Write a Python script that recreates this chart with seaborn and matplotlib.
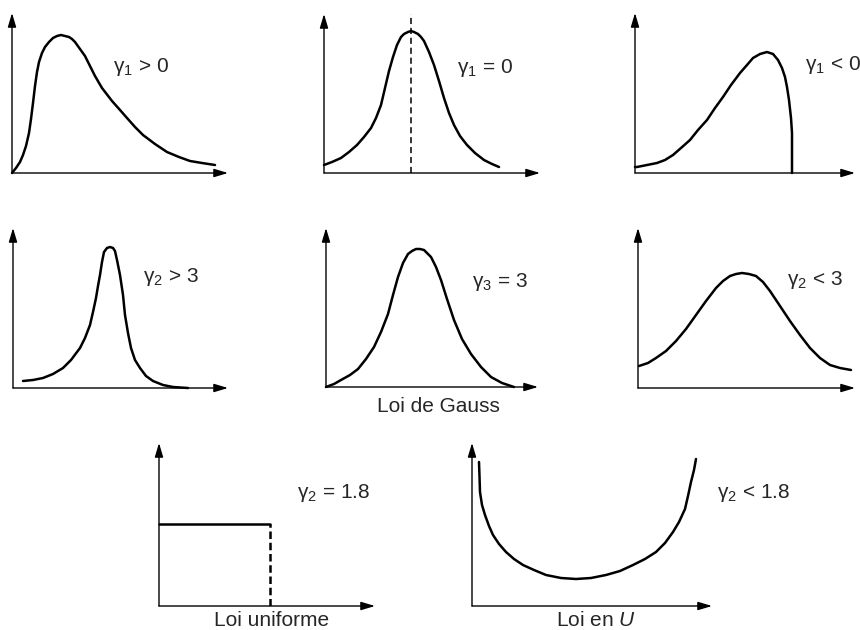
import matplotlib
matplotlib.use("Agg")
import matplotlib.pyplot as plt
import seaborn as sns
import pandas as pd

# ---- data (x offset from y-axis, height above x-axis, in px) ----
p1_x = [0, 4, 8, 11, 14, 17, 19, 21, 23, 25, 27, 30, 33, 37, 41, 45, 49, 53, 57, 60, 63, 68, 73,
        78, 83, 90, 100, 108, 115, 123, 131, 143, 155, 167, 178, 190, 203]
p1_y = [0, 5, 11, 18, 27, 40, 54, 70, 87, 101, 111, 120, 126, 131, 135, 137, 138, 137, 136, 134,
        131, 124, 117, 107, 97, 85, 72, 63, 55, 46, 38, 29, 21, 16, 12, 10, 8]

p2_x = [0, 8, 17, 25, 33, 40, 47, 52, 57, 61, 65, 69, 73, 77, 80, 84, 87, 90, 94, 97, 100, 105,
        110, 115, 120, 125, 130, 136, 143, 151, 160, 168, 175]
p2_y = [8, 11, 15, 21, 28, 36, 45, 55, 68, 85, 102, 116, 128, 136, 139, 141, 142, 141, 139, 136,
        132, 121, 108, 92, 75, 60, 48, 37, 28, 20, 13, 9, 6]
p2_mean = 87

p3_x = [0, 2, 12, 22, 30, 38, 46, 55, 63, 72, 80, 88, 96, 105, 112, 118, 125, 132, 138, 143,
        147, 150, 152, 154, 156, 157, 157]
p3_y = [6, 6, 8, 10, 13, 18, 25, 33, 43, 53, 65, 76, 88, 100, 108, 115, 119, 121, 119, 113,
        105, 96, 86, 73, 55, 40, 0]

p4_x = [10, 20, 30, 40, 50, 58, 67, 72, 77, 80, 83, 85, 87, 89, 91, 94, 97, 100, 102, 104, 107,
        110, 112, 115, 118, 122, 127, 133, 140, 150, 160, 175]
p4_y = [7, 8, 10, 14, 20, 28, 40, 50, 63, 76, 90, 102, 113, 126, 136, 140, 141, 140, 137, 128,
        113, 93, 73, 55, 40, 28, 20, 12, 7, 3, 1, 0]

p5_x = [0, 8, 15, 24, 32, 40, 48, 55, 62, 67, 72, 77, 82, 86, 90, 94, 98, 102, 105, 110, 115,
        121, 128, 136, 145, 155, 165, 176, 188]
p5_y = [0, 3, 7, 12, 18, 28, 40, 55, 73, 92, 110, 124, 133, 136, 138, 138, 137, 133, 130, 120,
        107, 88, 67, 48, 33, 20, 10, 4, 0]

p6_x = [1, 10, 18, 28, 38, 48, 58, 68, 78, 85, 92, 98, 104, 111, 118, 125, 132, 142, 152, 162,
        172, 182, 192, 202, 213]
p6_y = [22, 25, 30, 37, 47, 59, 73, 87, 100, 107, 112, 114, 115, 114, 112, 106, 97, 82, 67, 53,
        40, 30, 23, 20, 18]

p7_x = [0, 111]
p7_y = [82, 82]

p8_x = [7, 7.5, 8, 10, 13, 17, 21, 27, 34, 42, 51, 62, 74, 89, 104, 119, 134, 148, 161, 173, 184,
        193, 201, 207, 213, 216, 219, 222, 224]
p8_y = [144, 130, 114, 101, 91, 80, 71, 62, 54, 47, 41, 36, 31, 28, 27, 28, 31, 35, 41, 47, 54,
        63, 74, 84, 97, 110, 124, 136, 147]

labels = [r"$\mathregular{\gamma_1}$ > 0", r"$\mathregular{\gamma_1}$ = 0", r"$\mathregular{\gamma_1}$ < 0",
          r"$\mathregular{\gamma_2}$ > 3", r"$\mathregular{\gamma_3}$ = 3", r"$\mathregular{\gamma_2}$ < 3",
          r"$\mathregular{\gamma_2}$ = 1.8", r"$\mathregular{\gamma_2}$ < 1.8"]
captions = ["Loi de Gauss", "Loi uniforme", r"Loi en $\mathit{U}$"]

sns.set_theme(style="white")
plt.rcParams["font.family"] = ["Liberation Sans", "DejaVu Sans"]
plt.rcParams["mathtext.fontset"] = "custom"
plt.rcParams["mathtext.rm"] = "Liberation Sans"
plt.rcParams["mathtext.it"] = "Liberation Sans:italic"

W, H = 860, 630
fig = plt.figure(figsize=(8.6, 6.3), dpi=100)
fig.patch.set_facecolor("white")

CURVE_LW = 1.8
AXIS_LW = 1.0


def make_ax(xpx, ypx, wpx, hpx):
    ax = fig.add_axes([xpx / W, (H - ypx) / H, wpx / W, hpx / H])
    ax.set_xlim(0, wpx)
    ax.set_ylim(0, hpx)
    ax.set_axis_off()
    ax.set_facecolor("none")
    style = "-|>,head_length=0.6,head_width=0.18"
    ax.annotate("", xy=(1, 0), xytext=(0, 0), xycoords="axes fraction",
                arrowprops=dict(arrowstyle=style, color="black", lw=AXIS_LW,
                                shrinkA=0, shrinkB=0, mutation_scale=14))
    ax.annotate("", xy=(0, 1), xytext=(0, 0), xycoords="axes fraction",
                arrowprops=dict(arrowstyle=style, color="black", lw=AXIS_LW,
                                shrinkA=0, shrinkB=0, mutation_scale=14))
    return ax


def curve(ax, xs, ys, **kw):
    df = pd.DataFrame({"x": xs, "y": ys})
    sns.lineplot(data=df, x="x", y="y", ax=ax, color="black", lw=CURVE_LW,
                 sort=False, estimator=None, clip_on=False,
                 solid_joinstyle="round", solid_capstyle="round", **kw)
    ax.set_axis_off()


# panel geometry (y-axis x position, x-axis y position, width, height) in px
ax1 = make_ax(12, 173, 216, 160)
curve(ax1, p1_x, p1_y)
ax2 = make_ax(324, 173, 216, 159)
curve(ax2, p2_x, p2_y)
ax2.axvline(p2_mean, color="black", lw=1.1, ls=(0, (4, 2.5)))
ax3 = make_ax(635, 173, 220, 160)
curve(ax3, p3_x, p3_y)

ax4 = make_ax(13, 388, 215, 160)
curve(ax4, p4_x, p4_y)
ax5 = make_ax(326, 387, 212, 159)
curve(ax5, p5_x, p5_y)
ax6 = make_ax(638, 388, 217, 160)
curve(ax6, p6_x, p6_y)

ax7 = make_ax(159, 606, 216, 163)
curve(ax7, p7_x, p7_y)
ax7.vlines(p7_x[-1], 0, p7_y[-1], colors="black", lw=CURVE_LW, linestyles=(0, (3, 1.5)))
ax8 = make_ax(472, 606, 240, 163)
curve(ax8, p8_x, p8_y)

FS = 15
label_pos = [(113, 67), (457, 68), (805, 65), (143, 277), (472, 282), (787, 280),
             (297, 493), (717, 493)]
for (lx, ly), txt in zip(label_pos, labels):
    fig.text(lx / W, 1 - ly / H, txt, fontsize=FS, ha="left", va="center")

caption_pos = [(438, 407), (272, 621), (596, 621)]
for (cx, cy), txt in zip(caption_pos, captions):
    fig.text(cx / W, 1 - cy / H, txt, fontsize=FS, ha="center", va="center")

fig.savefig("out.png", dpi=100, facecolor="white")
